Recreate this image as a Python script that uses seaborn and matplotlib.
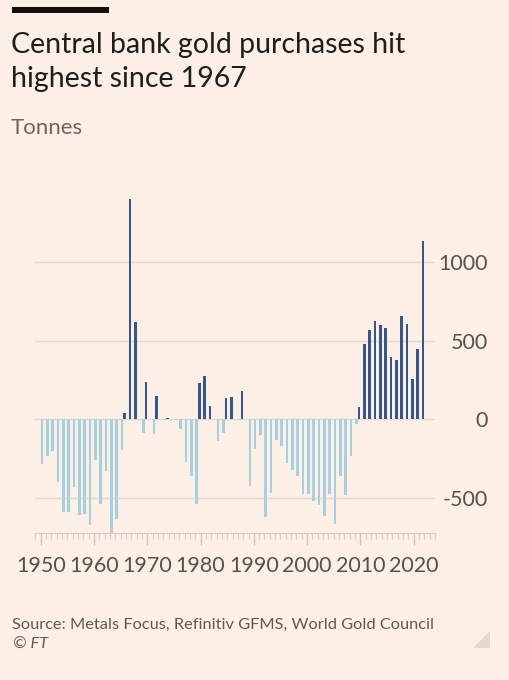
"""
Central bank gold purchases, 1950-2022 (FT style bar chart).
"""

import matplotlib
matplotlib.use("Agg")
import matplotlib.pyplot as plt
from matplotlib.patches import Polygon, Rectangle
from matplotlib.ticker import MultipleLocator
import pandas as pd
import seaborn as sns

# Data: net central bank gold purchases (tonnes)
years = list(range(1950, 2023))
tonnes = [
    -286, -233, -199, -399, -590, -590, -430, -611, -600, -670,   # 1950s
    -257, -536, -329, -725, -632, -193, 40, 1399, 617, -87,       # 1960s
    235, -95, 148, -3, 5, -6, -59, -271, -363, -541,              # 1970s
    231, 276, 85, -140, -85, 134, 142, -5, 180, -426,             # 1980s
    -187, -102, -621, -469, -129, -167, -278, -324, -363, -477,   # 1990s
    -477, -519, -547, -617, -477, -663, -363, -483, -233, -28,    # 2000s
    78, 481, 566, 627, 600, 579, 396, 379, 655, 606,              # 2010s
    254, 449, 1134,                                               # 2020s
]
side_order = ["Buy", "Sell"]
side_colors = ["#36578a", "#a6d0de"]
y_ticks = [-500, 0, 500, 1000]
y_tick_labels = ["-500", "0", "500", "1000"]
x_ticks = list(range(1950, 2030, 10))

title_lines = ["Central bank gold purchases hit", "highest since 1967"]
subtitle = "Tonnes"
source = "Source: Metals Focus, Refinitiv GFMS, World Gold Council"

BG = "#fcefe5"
W, H = 510, 680


def px(x, y):
    """Pixel position (from top-left) to figure fraction."""
    return x / W, 1 - y / H


def main():
    df = pd.DataFrame({"year": years, "tonnes": tonnes})
    df["side"] = ["Buy" if t > 0 else "Sell" for t in df["tonnes"]]

    sns.set_theme(style="white")
    plt.rcParams["font.family"] = ["Lato", "DejaVu Sans"]

    fig = plt.figure(figsize=(W / 100, H / 100), dpi=100, facecolor=BG)
    left, top = px(35, 191.2)
    right, bottom = px(435, 533.3)
    ax = fig.add_axes([left, bottom, right - left, top - bottom])
    ax.set_facecolor(BG)

    sns.barplot(
        data=df, x="year", y="tonnes", hue="side", hue_order=side_order,
        palette=side_colors, native_scale=True, dodge=True, width=1.0,
        saturation=1, linewidth=0, legend=False, ax=ax,
    )

    ax.set_xlim(1948.93, 2024.0)
    ax.set_ylim(-725, 1450)

    # gridlines
    ax.grid(axis="y", color="#e3d8ce", linewidth=1)
    ax.grid(axis="x", visible=False)
    ax.set_axisbelow(True)

    # y axis on the right, right-aligned labels
    ax.yaxis.tick_right()
    ax.set_yticks(y_ticks)
    ax.set_yticklabels(y_tick_labels)
    ax.tick_params(axis="y", length=0, pad=38, labelsize=15.5, labelcolor="#57514c")
    for t in ax.get_yticklabels():
        t.set_horizontalalignment("right")

    # x axis: decade labels, yearly minor ticks
    ax.set_xticks(x_ticks)
    ax.set_xticklabels([str(x) for x in x_ticks])
    ax.xaxis.set_minor_locator(MultipleLocator(1))
    ax.tick_params(axis="x", which="major", length=8.5, width=1, color="#d0c6bc",
                   direction="out", pad=7.5, labelsize=15.5, labelcolor="#57514c",
                   bottom=True)
    ax.tick_params(axis="x", which="minor", length=4, width=0.8, color="#d6ccc2",
                   direction="out", bottom=True)

    ax.set_xlabel("")
    ax.set_ylabel("")
    for s in ["top", "left", "right"]:
        ax.spines[s].set_visible(False)
    ax.spines["bottom"].set_color("#d6ccc2")
    ax.spines["bottom"].set_linewidth(0.8)

    # header
    fig.add_artist(Rectangle(px(12, 12.5), 97 / W, 6 / H, transform=fig.transFigure,
                             color="#111111", linewidth=0))
    fig.text(*px(11, 53), title_lines[0], ha="left", va="baseline",
             fontsize=20.5, color="#1e1e1e")
    fig.text(*px(11, 87), title_lines[1], ha="left", va="baseline",
             fontsize=20.5, color="#1e1e1e")
    fig.text(*px(11, 134), subtitle, ha="left", va="baseline", fontsize=16,
             color="#6b6560")

    # footer
    fig.text(*px(12, 629), source, ha="left", va="baseline", fontsize=11.8,
             color="#5f5954")
    fig.text(*px(13, 649), "© FT", ha="left", va="baseline", fontsize=11.8,
             color="#5f5954", style="italic")
    fig.add_artist(Polygon([px(473, 648), px(490, 648), px(490, 631)],
                           closed=True, transform=fig.transFigure,
                           facecolor="#e2d8cf", edgecolor="none"))

    plt.savefig("out.png", dpi=100, facecolor=BG)
    plt.close()


if __name__ == "__main__":
    main()
